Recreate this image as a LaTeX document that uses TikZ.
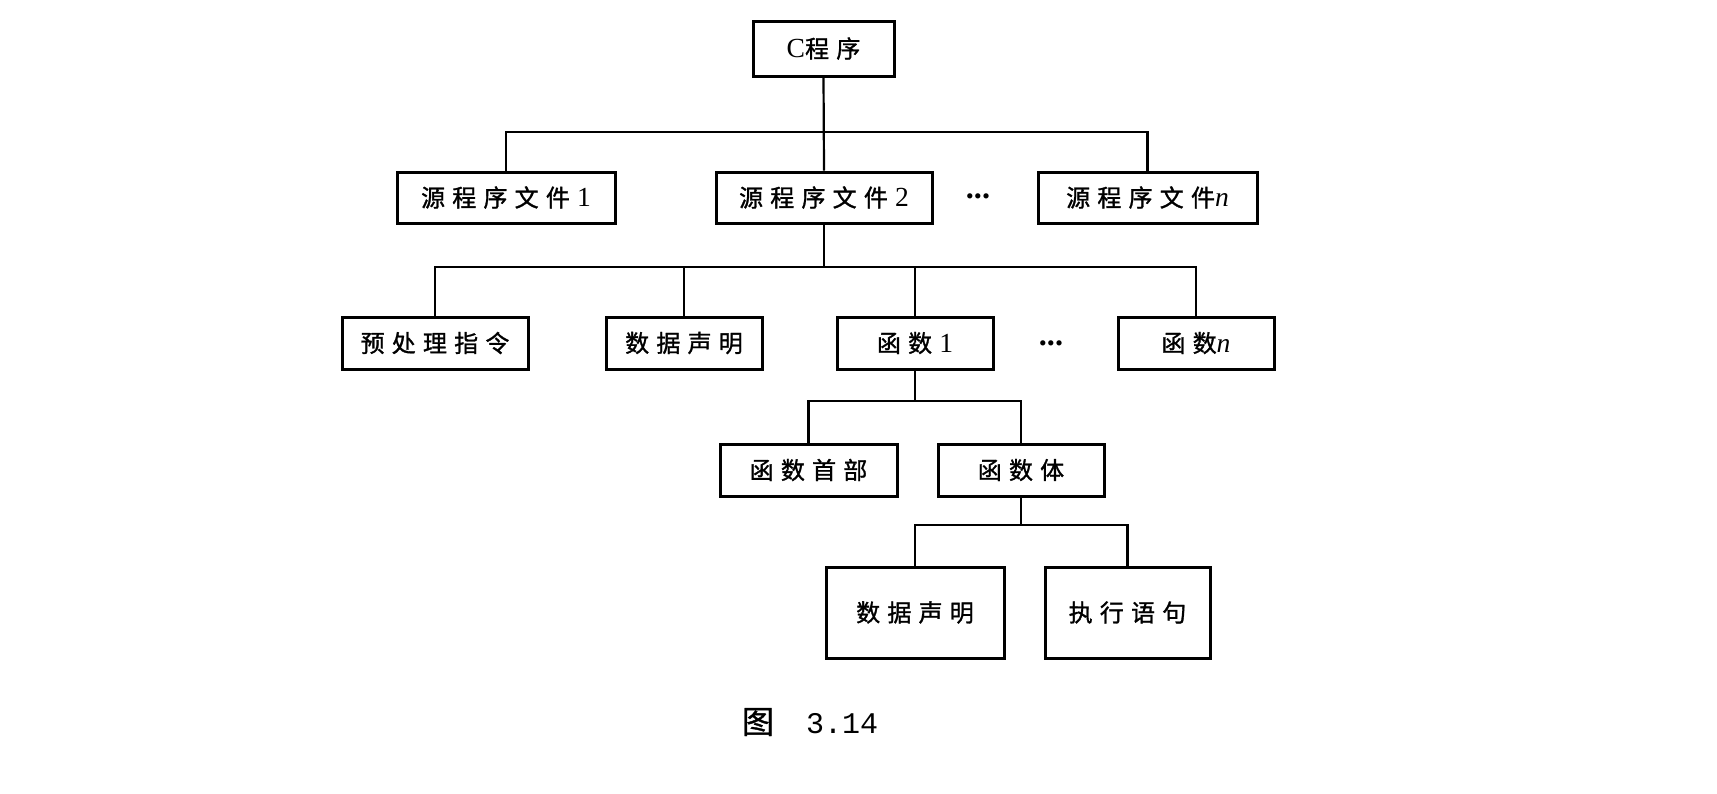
\documentclass[tikz,border=0pt]{standalone}
\usepackage{fontspec}
\setmainfont[Scale=1.15]{Liberation Serif}
\setmonofont{Liberation Mono}
\newfontfamily\cjk[LetterSpace=30, FakeBold=1.2]{Noto Sans CJK SC}
\usepackage{tikz}
\usetikzlibrary{positioning}

\begin{document}
\begin{tikzpicture}[x=0.5pt, y=-0.5pt,
    box/.style={rectangle, draw=black, line width=1.5pt, fill=white, text=black,
      inner sep=0pt, font=\fontsize{12pt}{14pt}\selectfont\cjk},
    dots/.style={inner sep=0pt, font=\fontsize{14pt}{16pt}\selectfont\bfseries},
    link/.style={draw=black, line width=1.1pt}]
    \useasboundingbox (0,0) rectangle (1717,793);
    \node[box, minimum width=70.5pt, minimum height=27.5pt] (cprog) at (823.5,48.5) {\textrm{C}程序};
    \node[box, minimum width=109pt, minimum height=25.5pt] (src1) at (506,197.5) {源程序文件\textrm{1}};
    \node[box, minimum width=108pt, minimum height=25.5pt] (src2) at (824,197.5) {源程序文件\textrm{2}};
    \node[dots] (dots1) at (978,196) {...};
    \node[box, minimum width=109.5pt, minimum height=25.5pt] (srcn) at (1147.5,197.5) {源程序文件{\rmfamily\itshape n}};
    \node[box, minimum width=93pt, minimum height=26pt] (pre) at (435,343) {预处理指令};
    \node[box, minimum width=78pt, minimum height=26pt] (dat) at (684,343) {数据声明};
    \node[box, minimum width=78pt, minimum height=26pt] (fn1) at (915,343) {函数\textrm{1}};
    \node[dots] (dots2) at (1051,343) {...};
    \node[box, minimum width=78pt, minimum height=26pt] (fnn) at (1196,343) {函数{\rmfamily\itshape n}};
    \node[box, minimum width=88.5pt, minimum height=26pt] (head) at (808.5,470) {函数首部};
    \node[box, minimum width=83pt, minimum height=26pt] (body) at (1021,470) {函数体};
    \node[box, minimum width=89pt, minimum height=45.5pt] (dat2) at (915,612.5) {数据声明};
    \node[box, minimum width=82.5pt, minimum height=45.5pt] (exec) at (1127.5,612.5) {执行语句};
    \node (caption) at (810,722) {{\fontsize{16pt}{18pt}\selectfont\cjk 图}\hspace{16pt}{\fontsize{15pt}{17pt}\selectfont\ttfamily 3.14}};

    \coordinate (b1) at (824,132);
    \coordinate (b2) at (824,267);
    \coordinate (b3) at (915,401);
    \coordinate (b4) at (1021,525);

    \draw[link] (cprog.south) -- (src2.north);
    \draw[link] (src1.north) -- (src1.north |- b1) -- (srcn.north |- b1) -- (srcn.north);
    \draw[link] (src2.south) -- (b2);
    \draw[link] (pre.north) -- (pre.north |- b2) -- (fnn.north |- b2) -- (fnn.north);
    \draw[link] (dat.north) -- (dat.north |- b2);
    \draw[link] (fn1.north) -- (fn1.north |- b2);
    \draw[link] (fn1.south) -- (b3);
    \draw[link] (head.north) -- (head.north |- b3) -- (body.north |- b3) -- (body.north);
    \draw[link] (body.south) -- (b4);
    \draw[link] (dat2.north) -- (dat2.north |- b4) -- (exec.north |- b4) -- (exec.north);
  \end{tikzpicture}
\end{document}
